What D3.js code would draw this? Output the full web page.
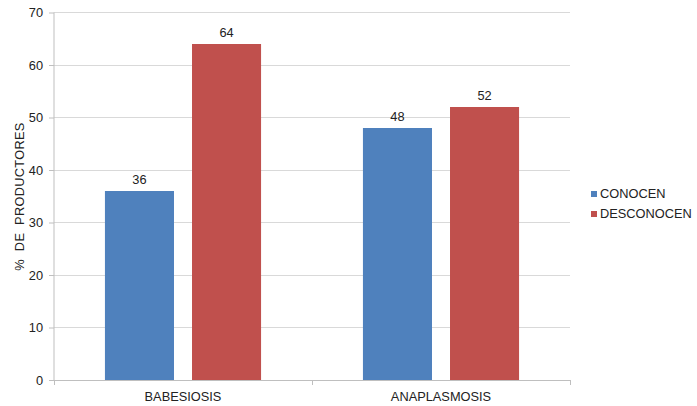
<!DOCTYPE html>
<html><head><meta charset="utf-8">
<script src="https://cdn.jsdelivr.net/npm/d3@7"></script>
<style>body{margin:0;background:#fff}text{font-family:"Liberation Sans",Arial,sans-serif}</style>
</head><body><svg id="c" width="697" height="406"></svg>
<script>
const categories = ["BABESIOSIS", "ANAPLASMOSIS"];
const seriesNames = ["CONOCEN", "DESCONOCEN"];
const conocen = [36, 48];
const desconocen = [64, 52];
const yTicks = [0, 10, 20, 30, 40, 50, 60, 70];
const colors = ["#4F81BD", "#C0504D"];

const FS = 12.8;
const svg = d3.select("#c");
const L = 54, R = 570, T = 12.5, B = 380;
const x = d3.scaleBand().domain(categories).range([L, R]);
const y = d3.scaleLinear().domain([0, 70]).range([B, T]);
const inner = d3.scaleBand().domain(seriesNames).range([0, x.bandwidth()]).paddingInner(0.207).paddingOuter(0.585);
const values = [conocen, desconocen];

// gridlines
svg.append("g").selectAll("line").data(yTicks.filter(d => d > 0)).join("line")
  .attr("x1", L).attr("x2", R).attr("y1", d => y(d)).attr("y2", d => y(d))
  .attr("stroke", "#d9d9d9").attr("stroke-width", 1).attr("shape-rendering", "crispEdges");

// y axis
const ya = svg.append("g").attr("transform", `translate(${L},0)`)
  .call(d3.axisLeft(y).tickValues(yTicks).tickSize(5).tickPadding(6));
ya.select(".domain").attr("stroke", "#bfbfbf").attr("d", `M0,${T}V${B}`);
ya.selectAll(".tick line").attr("stroke", "#bfbfbf");
ya.selectAll(".tick text").attr("font-size", FS).attr("fill", "#222").attr("font-family", "Liberation Sans, Arial, sans-serif");

// bars
categories.forEach((c, ci) => {
  seriesNames.forEach((s, si) => {
    const v = values[si][ci];
    svg.append("rect")
      .attr("x", x(c) + inner(s)).attr("width", inner.bandwidth())
      .attr("y", y(v)).attr("height", B - y(v))
      .attr("fill", colors[si]);
    svg.append("text")
      .attr("x", x(c) + inner(s) + inner.bandwidth() / 2)
      .attr("y", y(v) - 7)
      .attr("text-anchor", "middle").attr("font-size", FS).attr("fill", "#222")
      .text(v);
  });
});

// x axis
const xa = svg.append("g").attr("transform", `translate(0,${B})`);
xa.append("line").attr("x1", L).attr("x2", R).attr("stroke", "#bfbfbf").attr("shape-rendering", "crispEdges");
[L, (L + R) / 2, R].forEach(t => xa.append("line").attr("x1", t).attr("x2", t).attr("y1", 0).attr("y2", 5).attr("stroke", "#bfbfbf").attr("shape-rendering", "crispEdges"));
categories.forEach(c => xa.append("text").attr("x", x(c) + x.bandwidth() / 2).attr("y", 21)
  .attr("text-anchor", "middle").attr("font-size", FS).attr("fill", "#222").text(c));

// y title
svg.append("text").attr("transform", "translate(23.5,196.5) rotate(-90)")
  .attr("text-anchor", "middle").attr("font-size", FS).attr("fill", "#222")
  .attr("word-spacing", 4).attr("letter-spacing", 0.3).text("% DE PRODUCTORES");

// legend
seriesNames.forEach((s, i) => {
  const g = svg.append("g").attr("transform", `translate(591,${191 + i * 20})`);
  g.append("rect").attr("width", 6).attr("height", 6).attr("fill", colors[i]);
  g.append("text").attr("x", 9).attr("y", 6.5).attr("font-size", FS).attr("fill", "#222").text(s);
});
</script></body></html>
